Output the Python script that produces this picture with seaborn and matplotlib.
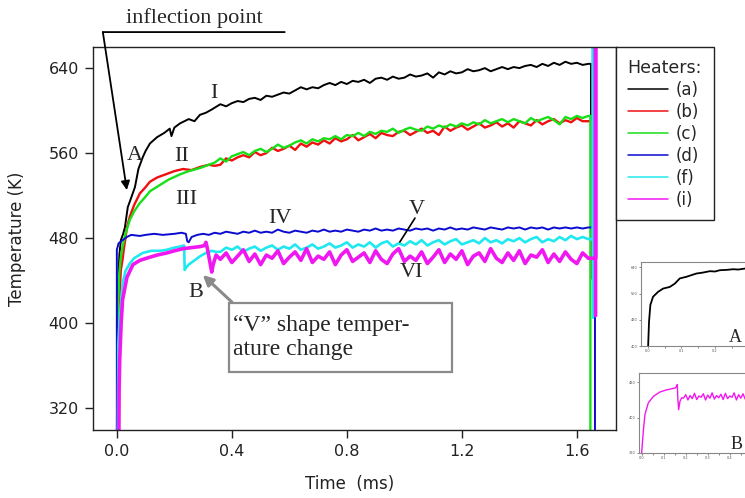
import matplotlib
matplotlib.use("Agg")
import matplotlib.pyplot as plt
import seaborn as sns
from matplotlib.lines import Line2D
from matplotlib.patches import Rectangle

# --------------------
# Data (time in ms, temperature in K)
# --------------------
HEATERS = ["(a)", "(b)", "(c)", "(d)", "(f)", "(i)"]
COLORS = ["#000000", "#f01010", "#18e018", "#0a0ad0", "#20e8f0", "#f018f0"]
WIDTHS = [1.4, 1.7, 1.7, 1.4, 1.9, 2.6]

TIME_PLATEAU = [0.36, 0.38, 0.40, 0.42, 0.44, 0.46, 0.48, 0.50, 0.52, 0.54, 0.56, 0.58,
                0.60, 0.62, 0.64, 0.66, 0.68, 0.70, 0.72, 0.74, 0.76, 0.78, 0.80, 0.82,
                0.84, 0.86, 0.88, 0.90, 0.92, 0.94, 0.96, 0.98, 1.00, 1.02, 1.04, 1.06,
                1.08, 1.10, 1.12, 1.14, 1.16, 1.18, 1.20, 1.22, 1.24, 1.26, 1.28, 1.30,
                1.32, 1.34, 1.36, 1.38, 1.40, 1.42, 1.44, 1.46, 1.48, 1.50, 1.52, 1.54,
                1.56, 1.58, 1.60, 1.62, 1.64]

# heater (a) - curve I
A_EARLY_T = [0.0, 0.002, 0.005, 0.009, 0.014, 0.022, 0.028, 0.038, 0.05, 0.063, 0.075,
             0.09, 0.10, 0.115, 0.14, 0.165, 0.184, 0.19, 0.20, 0.22, 0.25, 0.27, 0.289,
             0.31, 0.33]
A_EARLY_K = [290, 400, 440, 465, 478, 484, 490, 509, 518, 528, 545, 556, 562, 569, 575,
             579, 583, 576, 584, 588, 592, 590, 596, 598, 601]
A_PLATEAU_K = [606, 604, 607, 609, 608, 611, 612, 610, 614, 613, 615, 617, 616, 619, 622,
               620, 622, 621, 624, 626, 624, 627, 625, 628, 627, 629, 626, 630, 631, 629,
               632, 630, 631, 634, 632, 633, 635, 631, 636, 634, 637, 635, 636, 639, 637,
               638, 640, 637, 639, 641, 639, 641, 640, 642, 643, 641, 644, 642, 645, 643,
               646, 644, 645, 643, 644]
A_END_T = [1.649, 1.649]
A_END_K = [644, 590]

# heater (b) - curve II
B_EARLY_T = [0.004, 0.006, 0.010, 0.014, 0.02, 0.024, 0.03, 0.035, 0.045, 0.06, 0.08,
             0.10, 0.115, 0.14, 0.18, 0.2, 0.23, 0.26, 0.29, 0.32, 0.34]
B_EARLY_K = [290, 400, 430, 450, 460, 469, 480, 490, 500, 511, 522, 528, 533, 537, 541,
             543, 545, 544, 547, 549, 548]
B_PLATEAU_K = [549, 555, 553, 556, 558, 556, 561, 558, 560, 565, 562, 564, 567, 563, 569,
               566, 570, 568, 572, 569, 574, 571, 573, 577, 572, 575, 578, 574, 579, 577,
               576, 580, 581, 577, 580, 583, 579, 581, 577, 585, 581, 584, 586, 582, 585,
               588, 584, 586, 589, 585, 588, 584, 590, 588, 586, 591, 587, 590, 592, 588,
               591, 589, 593, 590, 590]
B_END_T = [1.651, 1.651]
B_END_K = [590, 442]

# heater (c) - curve III
C_EARLY_T = [0.003, 0.005, 0.008, 0.013, 0.02, 0.03, 0.045, 0.06, 0.08, 0.10, 0.115,
             0.15, 0.18, 0.22, 0.25, 0.29, 0.32, 0.34]
C_EARLY_K = [290, 420, 445, 460, 472, 484, 497, 505, 513, 519, 524, 530, 535, 540, 543,
             546, 549, 551]
C_PLATEAU_K = [555, 552, 557, 559, 561, 558, 562, 564, 561, 564, 568, 565, 567, 570, 572,
               569, 573, 571, 574, 573, 576, 573, 577, 576, 579, 576, 580, 578, 581, 580,
               583, 579, 582, 584, 582, 581, 585, 583, 586, 584, 587, 585, 588, 586, 589,
               587, 591, 588, 590, 592, 589, 592, 590, 588, 593, 590, 592, 594, 591, 587,
               594, 592, 595, 593, 595]
C_END_T = [1.647, 1.647]
C_END_K = [595, 290]

# heater (d) - curve IV
D_EARLY_T = [0.0, 0.0, 0.006, 0.02, 0.035, 0.05, 0.08, 0.1, 0.13, 0.16, 0.2, 0.225, 0.24,
             0.245, 0.25, 0.26, 0.28, 0.30, 0.32, 0.34]
D_EARLY_K = [290, 469, 475, 478, 481, 483, 482, 483, 484, 483, 484, 485, 484, 477, 476,
             481, 483, 484, 483, 485]
D_PLATEAU_K = [484, 486, 485, 484, 486, 485, 487, 485, 486, 485, 488, 486, 485, 487, 486,
               485, 487, 486, 488, 486, 487, 486, 488, 487, 486, 488, 487, 489, 487, 488,
               487, 489, 488, 487, 489, 488, 489, 487, 489, 488, 490, 488, 489, 488, 490,
               489, 488, 490, 489, 488, 490, 489, 490, 488, 490, 489, 490, 488, 490, 489,
               490, 489, 490, 489, 490]
D_END_T = [1.663, 1.663]
D_END_K = [490, 290]

# heater (f) - curve V
F_EARLY_T = [0.003, 0.005, 0.01, 0.02, 0.03, 0.045, 0.06, 0.09, 0.12, 0.15, 0.174, 0.2,
             0.22, 0.234, 0.236, 0.24, 0.25, 0.27, 0.29, 0.31, 0.33, 0.345]
F_EARLY_K = [290, 380, 403, 437, 449, 456, 461, 466, 468, 468, 469, 471, 472, 473, 450,
             452, 455, 459, 463, 466, 468, 467]
F_PLATEAU_K = [467, 471, 469, 472, 467, 470, 472, 468, 471, 473, 469, 472, 470, 474, 469,
               471, 474, 470, 472, 475, 471, 473, 476, 471, 474, 472, 476, 471, 475, 477,
               472, 475, 473, 477, 474, 478, 473, 476, 478, 474, 477, 479, 474, 476, 478,
               475, 480, 476, 478, 475, 479, 477, 480, 476, 479, 481, 476, 479, 477, 481,
               478, 482, 479, 481, 479]
F_END_T = [1.656, 1.656, 1.656]
F_END_K = [479, 700, 405]

# heater (i) - curve VI
I_EARLY_T = [0.007, 0.008, 0.01, 0.015, 0.02, 0.035, 0.056, 0.08, 0.115, 0.14, 0.174,
             0.2, 0.23, 0.26, 0.29, 0.305, 0.31, 0.315, 0.33, 0.335, 0.345]
I_EARLY_K = [290, 340, 365, 400, 422, 443, 455, 459, 462, 464, 466, 468, 470, 471, 472,
             473, 476, 470, 448, 455, 464]
I_PLATEAU_K = [460, 466, 457, 463, 469, 458, 465, 455, 464, 461, 468, 456, 462, 467, 459,
               470, 457, 463, 460, 467, 455, 464, 469, 458, 462, 466, 457, 468, 460, 456,
               465, 470, 458, 463, 459, 467, 456, 462, 469, 457, 465, 460, 468, 455, 463,
               466, 458, 470, 461, 457, 466, 459, 468, 456, 464, 462, 469, 457, 465, 458,
               467, 460, 456, 466, 461]
I_END_T = [1.665, 1.665, 1.665]
I_END_K = [461, 700, 407]

# inset A (zoom on curve I)
INSET_A_T = [0.0, 0.003, 0.007, 0.015, 0.03, 0.045, 0.065, 0.08, 0.095, 0.115, 0.13,
             0.145, 0.16, 0.185, 0.2, 0.215, 0.235, 0.255, 0.27, 0.29, 0.31, 0.33, 0.36, 0.38]
INSET_A_K = [390, 474, 525, 550, 565, 575, 580, 590, 606, 611, 616, 621, 623, 628, 627,
             631, 632, 634, 633, 636, 636, 638, 639, 640]

# inset B (zoom on curve VI)
INSET_B_T = [0.0, 0.0076, 0.015, 0.03, 0.053, 0.083, 0.114, 0.152, 0.159, 0.162, 0.164,
             0.168, 0.174, 0.182, 0.19, 0.20, 0.21, 0.22, 0.23, 0.24, 0.25, 0.26, 0.27,
             0.28, 0.29, 0.30, 0.31, 0.32, 0.33, 0.34, 0.35, 0.36, 0.37, 0.38, 0.39, 0.40,
             0.41, 0.42, 0.43, 0.44, 0.45, 0.46, 0.47, 0.48, 0.49, 0.50]
INSET_B_K = [320, 369, 407, 433, 448, 458, 463, 467, 471, 475, 445, 418, 437, 445, 444,
             452, 440, 450, 443, 455, 441, 449, 446, 454, 440, 451, 444, 456, 442, 450,
             445, 453, 441, 455, 443, 449, 446, 456, 440, 452, 444, 454, 442, 451, 445, 453]

X_TICKS = [0.0, 0.4, 0.8, 1.2, 1.6]
Y_TICKS = [320, 400, 480, 560, 640]

SERIF = ["Liberation Serif", "DejaVu Serif"]


def series(early_t, early_k, plateau_k, end_t, end_k):
    return early_t + TIME_PLATEAU + end_t, early_k + plateau_k + end_k


def main():
    sns.set_theme(style="ticks")
    plt.rcParams["font.family"] = ["DejaVu Sans"]
    plt.rcParams["axes.edgecolor"] = "#222222"
    plt.rcParams["axes.linewidth"] = 1.0

    fig = plt.figure(figsize=(7.45, 4.98), dpi=100)
    ax = fig.add_axes([0.1248, 0.1365, 0.702, 0.769])

    all_series = [
        series(A_EARLY_T, A_EARLY_K, A_PLATEAU_K, A_END_T, A_END_K),
        series(B_EARLY_T, B_EARLY_K, B_PLATEAU_K, B_END_T, B_END_K),
        series(C_EARLY_T, C_EARLY_K, C_PLATEAU_K, C_END_T, C_END_K),
        series(D_EARLY_T, D_EARLY_K, D_PLATEAU_K, D_END_T, D_END_K),
        series(F_EARLY_T, F_EARLY_K, F_PLATEAU_K, F_END_T, F_END_K),
        series(I_EARLY_T, I_EARLY_K, I_PLATEAU_K, I_END_T, I_END_K),
    ]
    for (t, k), color, lw in zip(all_series, COLORS, WIDTHS):
        sns.lineplot(x=t, y=k, sort=False, estimator=None, color=color, lw=lw, ax=ax)

    ax.set_xlim(-0.083, 1.736)
    ax.set_ylim(299.3, 659.8)
    ax.set_xticks(X_TICKS)
    ax.set_xticklabels([f"{v:.1f}" for v in X_TICKS])
    ax.set_yticks(Y_TICKS)
    ax.tick_params(axis="both", direction="out", length=6, width=1.0,
                   labelsize=11.5, colors="#222222", labelcolor="#222222")
    ax.tick_params(axis="y", pad=4)
    ax.tick_params(axis="x", pad=4)
    ax.set_xlabel("Time  (ms)", fontsize=12, color="#222222")
    ax.set_ylabel("Temperature (K)", fontsize=12, color="#222222")
    ax.xaxis.set_label_coords(0.491, -0.118)
    ax.yaxis.set_label_coords(-0.128, 0.5)

    # legend
    handles = [Line2D([0], [0], color=c, lw=1.1) for c in COLORS]
    leg = ax.legend(handles, HEATERS, title="Heaters:", loc="upper left",
                    bbox_to_anchor=(1.0, 1.0), borderaxespad=0, frameon=True,
                    fancybox=False, framealpha=1, edgecolor="#222222",
                    fontsize=12, title_fontsize=12.5, handlelength=2.4,
                    handletextpad=0.45, labelspacing=0.24, alignment="left",
                    borderpad=0.7)
    leg.get_frame().set_linewidth(1.0)

    # annotations
    ax.annotate("", xy=(0.584, 673.9), xytext=(-0.0487, 673.9),
                arrowprops=dict(arrowstyle="-", color="black", lw=1.3,
                                shrinkA=0, shrinkB=0), annotation_clip=False)
    ax.annotate("", xy=(0.0348, 525.2), xytext=(-0.0487, 673.9),
                arrowprops=dict(arrowstyle="-|>", color="black", lw=1.3,
                                mutation_scale=13, shrinkA=0, shrinkB=0),
                annotation_clip=False)
    ax.text(0.271, 687, "inflection point", family=SERIF, fontsize=16,
            ha="center", va="center", clip_on=False)

    labels = [("A", 0.0626, 558.1), ("I", 0.337, 616.5), ("II", 0.226, 557.2),
              ("III", 0.243, 516.7), ("IV", 0.567, 498.8), ("V", 1.043, 507.3),
              ("VI", 1.026, 448.0), ("B", 0.275, 429.2)]
    for txt, x, y in labels:
        ax.text(x, y, txt, family=SERIF, fontsize=16, ha="center", va="center")
    ax.plot([1.037, 0.984], [498.8, 476.2], color="black", lw=1.2)

    ax.add_patch(Rectangle((0.39, 353.9), 0.775, 64.9, facecolor="white",
                           edgecolor="#8a8a8a", lw=1.6, zorder=5))
    ax.text(0.405, 386.5, "\u201cV\u201d shape temper-\nature change", family=SERIF,
            fontsize=17, ha="left", va="center", linespacing=1.15, zorder=6)
    ax.annotate("", xy=(0.299, 445.2), xytext=(0.40, 419.8),
                arrowprops=dict(arrowstyle="-|>", color="#8a8a8a", lw=2.2,
                                mutation_scale=15, shrinkA=0, shrinkB=0), zorder=6)

    # inset A
    ia = fig.add_axes([0.8604, 0.3052, 0.189, 0.1687])
    sns.lineplot(x=INSET_A_T, y=INSET_A_K, sort=False, estimator=None,
                 color="black", lw=1.3, ax=ia)
    ia.set_xlim(-0.021, 0.40)
    ia.set_ylim(400, 656)
    ia.set_xticks([0.0, 0.05, 0.1, 0.15, 0.2, 0.25, 0.3, 0.35])
    ia.set_xticklabels(["0.0", "", "0.1", "", "0.2", "", "", ""])
    ia.set_yticks([400, 480, 560, 640])
    ia.text(0.262, 427, "A", family=SERIF, fontsize=13, ha="center", va="center")

    # inset B
    ib = fig.add_axes([0.8577, 0.0904, 0.181, 0.1606])
    sns.lineplot(x=INSET_B_T, y=INSET_B_K, sort=False, estimator=None,
                 color="#f018f0", lw=1.0, ax=ib)
    ib.set_xlim(-0.012, 0.6)
    ib.set_ylim(320, 501)
    ib.set_xticks([0.0, 0.05, 0.1, 0.15, 0.2, 0.25, 0.3, 0.35, 0.4, 0.45, 0.5])
    ib.set_xticklabels(["0.0", "", "0.1", "", "0.2", "", "0.3", "", "0.4", "", ""])
    ib.set_yticks([320, 400, 480])
    ib.text(0.43, 340, "B", family=SERIF, fontsize=13, ha="center", va="center")

    for inset in (ia, ib):
        for sp in inset.spines.values():
            sp.set_color("#888888")
            sp.set_linewidth(0.8)
        inset.tick_params(direction="out", length=1.5, width=0.5, labelsize=2.5,
                          pad=1, colors="#555555")

    fig.savefig("out.png", dpi=100)
    plt.close(fig)


if __name__ == "__main__":
    main()
